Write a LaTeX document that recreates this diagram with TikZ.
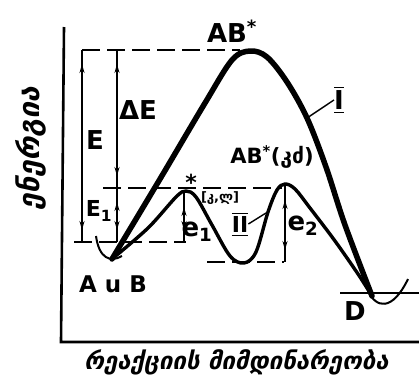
\documentclass[tikz,border=0pt]{standalone}
\usepackage{fontspec}
\setmainfont{DejaVu Sans}
\newfontfamily\geofont[FakeSlant=0.22]{DejaVu Sans}
\usepackage{amsmath}
\usetikzlibrary{arrows.meta,decorations.markings}

\begin{document}
\begin{tikzpicture}[x=1pt,y=-1pt,
  every node/.style={inner sep=0pt,font=\bfseries\fontsize{26}{28}\selectfont},
  axis/.style={line width=2.6pt},
  curveI/.style={line width=5.5pt,line join=round,line cap=round},
  curveII/.style={line width=3.4pt,line join=round,line cap=round},
  well/.style={line width=2pt},
  level/.style={line width=1.6pt,dash pattern=on 18pt off 7pt},
  dimline/.style={line width=1.5pt,postaction={decorate},
    decoration={markings,
      mark=at position 14pt with {\arrowreversed{Stealth[length=9pt,width=5pt]}},
      mark=at position -12pt with {\arrow{Stealth[length=9pt,width=5pt]}}}},
  leader/.style={line width=1.4pt}]
\useasboundingbox (0,0) rectangle (419,381);

% axes
\coordinate (ytop) at (64,27);
\coordinate (orig) at (61,342);
\coordinate (xend) at (419,342);
\draw[axis] (ytop) -- (orig) -- (xend);
\node[rotate=90,font=\geofont\bfseries\fontsize{29}{31}\selectfont] (ylab) at (31,149) {ენერგია};
\node[font=\geofont\bfseries\fontsize{24}{26}\selectfont] (xlab) at (236,362) {რეაქციის მიმდინარეობა};

% energy levels
\coordinate (topL) at (82,50);   \coordinate (topR) at (240,50);
\coordinate (midL) at (103,188); \coordinate (midR) at (282,188);
\coordinate (reaL) at (74,242);  \coordinate (reaR) at (186,242);
\coordinate (intL) at (207,262); \coordinate (intR) at (284,262);
\coordinate (proL) at (340,293); \coordinate (proR) at (419,293);
\draw[level] (topL) -- (topR);
\draw[level] (midL) -- (midR);
\draw[level] (reaL) -- (reaR);
\draw[level] (intL) -- (intR);
\draw[line width=1.6pt] (proL) -- (proR);

% wells
\draw[well] (96,236) .. controls (99,258) and (110,263) .. (122,256);
\draw[well] (368,291) .. controls (376,308) and (392,312) .. (408,279);

% path I and path II
\draw[curveI] plot[smooth,tension=0.55] coordinates {(112,259) (160,179) (205,103) (232,60) (250,51) (267,57) (287,82) (307,118) (326,167) (345,225) (372,296)};
\draw[curveII] plot[smooth,tension=0.55] coordinates {(112,259) (148,228) (176,197) (186,191) (196,197) (212,225) (230,256) (244,263) (256,252) (268,212) (277,190) (285,184) (295,189) (310,208) (335,241) (358,274) (372,296)};

% dimension arrows
\coordinate (Etop) at (82,50);    \coordinate (Ebot) at (82,242);
\coordinate (dEtop) at (117,50);  \coordinate (dEbot) at (117,188);
\coordinate (Eonebot) at (117,242);
\coordinate (eonetop) at (184,193); \coordinate (eonebot) at (184,242);
\coordinate (etwotop) at (285,186); \coordinate (etwobot) at (285,262);
\draw[dimline] (Etop) -- (Ebot);
\draw[dimline] (dEtop) -- (dEbot);
\draw[dimline] (dEbot) -- (Eonebot);
\draw[dimline] (eonetop) -- (eonebot);
\draw[dimline] (etwotop) -- (etwobot);

% labels
\node (ABtop) at (232,31) {AB\textsuperscript{*}};
\node (E) at (95,140) {E};
\node (dE) at (138,110) {ΔE};
\node[font=\bfseries\fontsize{22}{24}\selectfont] (Eone) at (99,211) {E\textsubscript{1}};
\node[font=\bfseries\fontsize{22}{24}\selectfont] (star) at (191,182) {*};
\node[font=\bfseries\fontsize{13}{15}\selectfont] (KL) at (220,198) {[კ,ლ]};
\node[font=\bfseries\fontsize{21}{23}\selectfont] (ABcat) at (272,157) {AB\textsuperscript{*}(კძ)};
\node (eone) at (197,232) {e\textsubscript{1}};
\node (etwo) at (303,226) {e\textsubscript{2}};
\node[font=\bfseries\fontsize{23}{25}\selectfont] (AB) at (113,284) {A u B};
\node (D) at (355,311) {D};
\node (one) at (339,100) {$\overline{\underline{\text{I}}}$};
\node[font=\bfseries\fontsize{22}{24}\selectfont] (two) at (240,224) {$\overline{\underline{\text{II}}}$};
\coordinate (onept) at (307,118);
\coordinate (twopt) at (266,213);
\draw[leader] (onept) -- (one.west);
\draw[leader] (two.east) -- (twopt);
\end{tikzpicture}
\end{document}
